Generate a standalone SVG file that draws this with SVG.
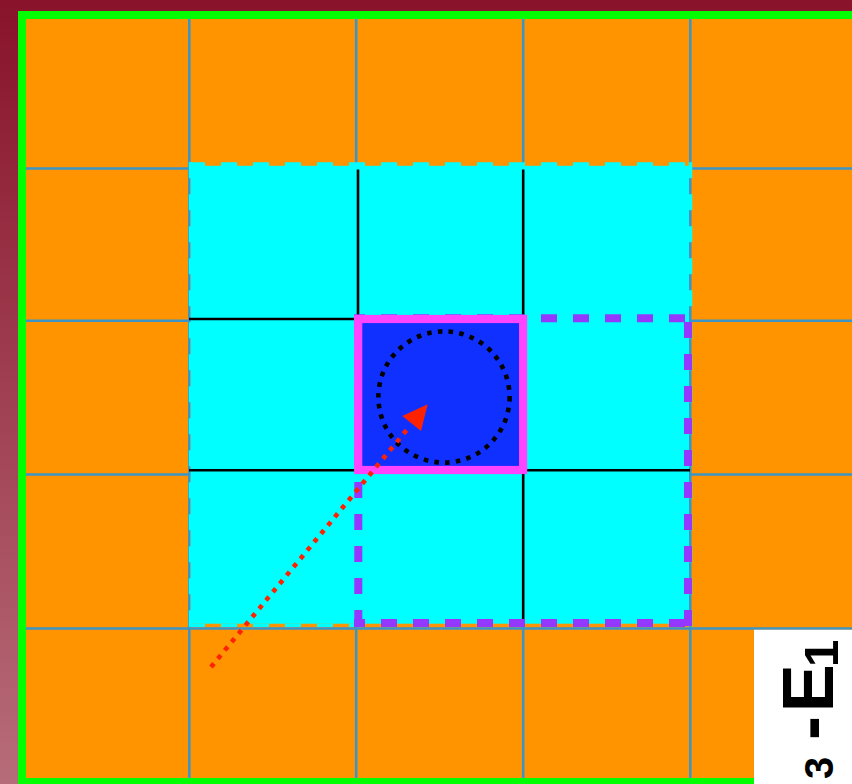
<svg xmlns="http://www.w3.org/2000/svg" width="852" height="784" viewBox="0 0 852 784">
  <defs>
    <linearGradient id="bg" x1="0" y1="0" x2="0" y2="1">
      <stop offset="0" stop-color="#88132a"/>
      <stop offset="1" stop-color="#b76c79"/>
    </linearGradient>
    <style>
      .grid { stroke: #3d95c5; stroke-width: 2.6; fill: none; }
      .inner { stroke: #000000; stroke-width: 2.6; fill: none; }
      .cyanedge { stroke: #00ffff; stroke-dasharray: 16 16; fill: none; }
      .purple { stroke: #9438ff; stroke-width: 8; stroke-dasharray: 16 16; fill: none; }
      .lbl { font-family: "Liberation Sans", Arial, sans-serif; font-weight: bold; fill: #000000; }
    </style>
  </defs>

  <rect x="0" y="0" width="852" height="784" fill="url(#bg)"/>

  <g id="frame">
    <rect x="22" y="15" width="840" height="767" fill="#ff9400" stroke="#00ff00" stroke-width="8"/>
  </g>

  <g id="grid">
    <line class="grid" x1="189.3" y1="19" x2="189.3" y2="778"/>
    <line class="grid" x1="356.2" y1="19" x2="356.2" y2="778"/>
    <line class="grid" x1="523.2" y1="19" x2="523.2" y2="778"/>
    <line class="grid" x1="690.3" y1="19" x2="690.3" y2="778"/>
    <line class="grid" x1="26" y1="168.5" x2="852" y2="168.5"/>
    <line class="grid" x1="26" y1="320.8" x2="852" y2="320.8"/>
    <line class="grid" x1="26" y1="474.5" x2="852" y2="474.5"/>
    <line class="grid" x1="26" y1="628.5" x2="852" y2="628.5"/>
  </g>

  <g id="region">
    <rect x="190.6" y="165.8" width="498.4" height="457.9" fill="#00ffff"/>
    <line class="cyanedge" stroke-width="3.7" x1="189" y1="164.1" x2="692" y2="164.1"/>
    <line class="cyanedge" stroke-width="3.4" x1="189" y1="625.2" x2="692" y2="625.2"/>
    <line class="cyanedge" stroke-width="3" x1="190.3" y1="162.3" x2="190.3" y2="627"/>
    <line class="cyanedge" stroke-width="3.5" x1="690.5" y1="162.3" x2="690.5" y2="627"/>
  </g>

  <g id="inner-grid">
    <line class="inner" x1="189" y1="319" x2="358" y2="319"/>
    <line class="inner" x1="189" y1="470.3" x2="690" y2="470.3"/>
    <line class="inner" x1="358" y1="169.5" x2="358" y2="319"/>
    <line class="inner" x1="523.2" y1="169.5" x2="523.2" y2="623"/>
  </g>

  <g id="purple-box">
    <line class="purple" stroke-dashoffset="5" x1="354" y1="318.3" x2="692" y2="318.3"/>
    <line class="purple" stroke-dashoffset="5" x1="354" y1="623" x2="692" y2="623"/>
    <line class="purple" stroke-dashoffset="25" x1="358.3" y1="315" x2="358.3" y2="627"/>
    <line class="purple" stroke-dashoffset="25" x1="688" y1="315" x2="688" y2="627"/>
  </g>

  <g id="center-cell">
    <rect x="358.2" y="319" width="164.9" height="151" fill="#1030ff" stroke="#ff44ff" stroke-width="8.2"/>
  </g>

  <g id="circle">
    <circle cx="444" cy="397" r="65.6" fill="none" stroke="#000000" stroke-width="4.6" stroke-dasharray="4.6 6.2"/>
  </g>

  <g id="connectors">
    <line x1="211" y1="667" x2="410" y2="426" stroke="#ff2200" stroke-width="4.6" stroke-dasharray="4.6 6.2"/>
    <polygon points="427.7,404.3 402.3,416 421,431" fill="#ff2200"/>
  </g>

  <g id="label">
    <rect x="754" y="629.8" width="98" height="154.2" fill="#ffffff"/>
    <g transform="translate(833.3,707) rotate(-90)">
      <text class="lbl" x="-72" y="0" font-size="40">3</text>
      <text class="lbl" x="-33" y="0" font-size="72">-</text>
      <text class="lbl" x="-5.3" y="0" font-size="72">E</text>
      <text class="lbl" x="40" y="5" font-size="49">1</text>
    </g>
  </g>
</svg>
